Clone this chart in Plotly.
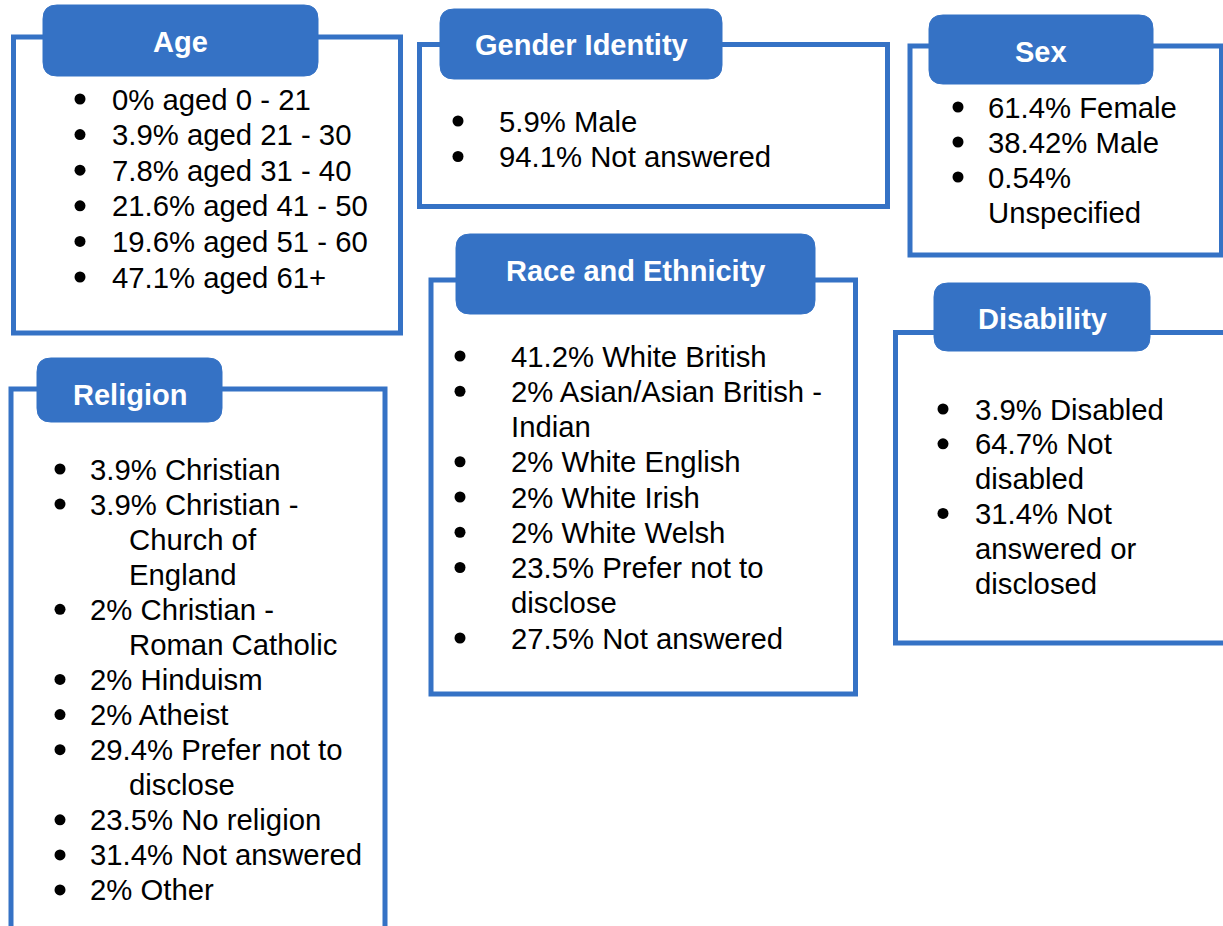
import plotly.graph_objects as go

# ---- data: panel titles and their bullet items (each item = list of wrapped lines)
titles = ["Age", "Gender Identity", "Sex", "Religion", "Race and Ethnicity", "Disability"]

age_items = [["0% aged 0 - 21"], ["3.9% aged 21 - 30"], ["7.8% aged 31 - 40"],
             ["21.6% aged 41 - 50"], ["19.6% aged 51 - 60"], ["47.1% aged 61+"]]
gender_items = [["5.9% Male"], ["94.1% Not answered"]]
sex_items = [["61.4% Female"], ["38.42% Male"], ["0.54%", "Unspecified"]]
religion_items = [["3.9% Christian"], ["3.9% Christian -", "Church of", "England"],
                  ["2% Christian -", "Roman Catholic"], ["2% Hinduism"], ["2% Atheist"],
                  ["29.4% Prefer not to", "disclose"], ["23.5% No religion"],
                  ["31.4% Not answered"], ["2% Other"]]
race_items = [["41.2% White British"], ["2% Asian/Asian British -", "Indian"],
              ["2% White English"], ["2% White Irish"], ["2% White Welsh"],
              ["23.5% Prefer not to", "disclose"], ["27.5% Not answered"]]
disability_items = [["3.9% Disabled"], ["64.7% Not", "disabled"],
                    ["31.4% Not", "answered or", "disclosed"]]

items_list = [age_items, gender_items, sex_items, religion_items, race_items, disability_items]

# ---- layout (pixel positions of each panel)
layouts = [
    dict(box=(13.5, 37, 400.5, 333), head=(43, 5, 318, 76), ty=42, bx=80, tx=110, cx=110, y0=99, dy=35.6),
    dict(box=(419.5, 44.5, 887.5, 206.5), head=(440, 9, 722, 79), ty=45, bx=458, tx=497, cx=497, y0=121, dy=35.5),
    dict(box=(910, 46, 1221.5, 255), head=(929, 15, 1153, 84), ty=52, bx=958, tx=986, cx=986, y0=107, dy=35),
    dict(box=(11, 389, 385, 960), head=(37, 358, 222, 422), ty=395, bx=60, tx=88, cx=127, y0=469, dy=35.08),
    dict(box=(431, 280, 855.5, 694), head=(456, 234, 815, 314), ty=271, bx=460, tx=509, cx=509, y0=356, dy=35.25),
    dict(box=(895.5, 332.5, 1240, 643), head=(934, 283, 1150, 351), ty=319, bx=943, tx=973, cx=973, y0=409, dy=34.8),
]

BLUE = "#3572C5"
W, H = 1223, 926
FONT = "Liberation Sans, Arial, sans-serif"


def rounded(x0, y0, x1, y1, r=14):
    return (f"M {x0+r},{y0} L {x1-r},{y0} Q {x1},{y0} {x1},{y0+r} "
            f"L {x1},{y1-r} Q {x1},{y1} {x1-r},{y1} L {x0+r},{y1} "
            f"Q {x0},{y1} {x0},{y1-r} L {x0},{y0+r} Q {x0},{y0} {x0+r},{y0} Z")


fig = go.Figure()
shapes = []
annotations = []
bullet_x, bullet_y = [], []

for title, items, L in zip(titles, items_list, layouts):
    bx0, by0, bx1, by1 = L["box"]
    shapes.append(dict(type="rect", x0=bx0, y0=by0, x1=bx1, y1=by1, xref="x", yref="y",
                       line=dict(color=BLUE, width=5), fillcolor="white", layer="below"))
    hx0, hy0, hx1, hy1 = L["head"]
    shapes.append(dict(type="path", path=rounded(hx0, hy0, hx1, hy1), xref="x", yref="y",
                       line=dict(color=BLUE, width=1), fillcolor=BLUE, layer="below"))
    annotations.append(dict(x=(hx0 + hx1) / 2, y=L["ty"], xref="x", yref="y", text=f"<b>{title}</b>",
                            showarrow=False, xanchor="center", yanchor="middle",
                            font=dict(family=FONT, size=29, color="white")))
    k = 0
    for item in items:
        for j, line in enumerate(item):
            y = L["y0"] + k * L["dy"]
            if j == 0:
                bullet_x.append(L["bx"])
                bullet_y.append(y)
            annotations.append(dict(x=L["tx"] if j == 0 else L["cx"], y=y, xref="x", yref="y",
                                    text=line, showarrow=False, xanchor="left", yanchor="middle",
                                    font=dict(family=FONT, size=29.3, color="black")))
            k += 1

fig.add_trace(go.Scatter(x=bullet_x, y=bullet_y, mode="markers",
                         marker=dict(color="black", size=11, symbol="circle"),
                         hoverinfo="skip", showlegend=False))

fig.update_layout(
    width=W, height=H, margin=dict(l=0, r=0, t=0, b=0),
    paper_bgcolor="white", plot_bgcolor="white",
    xaxis=dict(range=[0, W], visible=False, fixedrange=True),
    yaxis=dict(range=[H, 0], visible=False, fixedrange=True),
    shapes=shapes, annotations=annotations, showlegend=False,
)

fig.write_html("out.html", config={"displayModeBar": False},
               post_script="document.body.style.margin='0';document.body.style.overflow='hidden';")
